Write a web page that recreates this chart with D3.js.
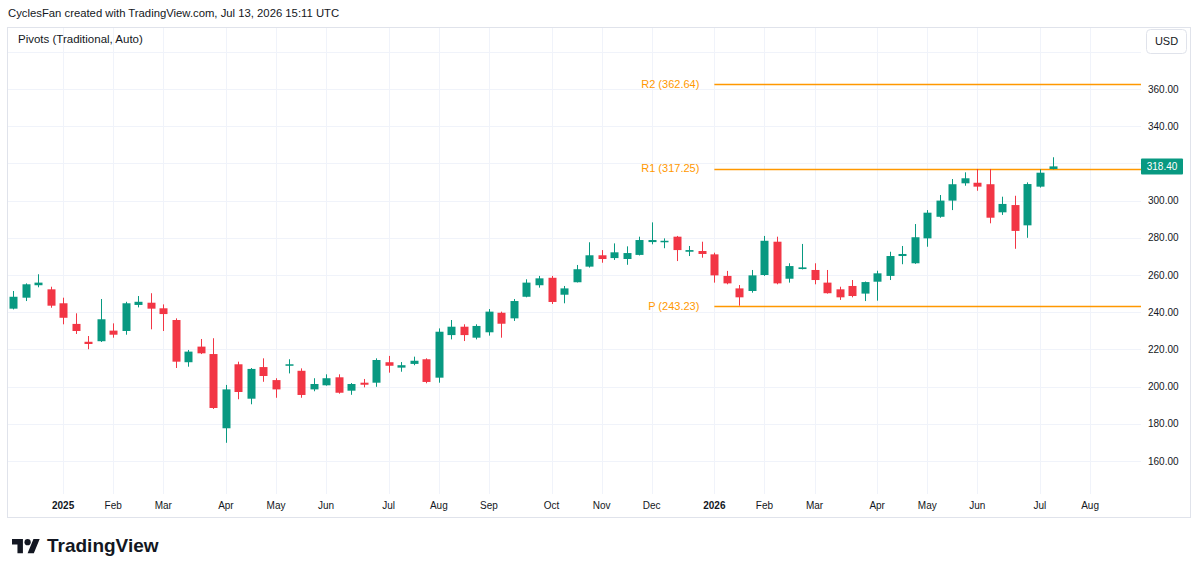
<!DOCTYPE html>
<html>
<head>
<meta charset="utf-8">
<script src="https://cdn.jsdelivr.net/npm/d3@7"></script>
<style>
  body { margin: 0; background: #fff; }
  svg { display: block; font-family: "Liberation Sans", Arial, sans-serif; }
</style>
</head>
<body>
<svg id="chart" width="1200" height="574"></svg>
<script>
// Weekly bars, Monday of each week
const weeks = [
  "2024-12-09","2024-12-16","2024-12-23","2024-12-30",
  "2025-01-06","2025-01-13","2025-01-20","2025-01-27","2025-02-03","2025-02-10","2025-02-17","2025-02-24",
  "2025-03-03","2025-03-10","2025-03-17","2025-03-24","2025-03-31","2025-04-07","2025-04-14","2025-04-21",
  "2025-04-28","2025-05-05","2025-05-12","2025-05-19","2025-05-26","2025-06-02","2025-06-09","2025-06-16",
  "2025-06-23","2025-06-30","2025-07-07","2025-07-14","2025-07-21","2025-07-28","2025-08-04","2025-08-11",
  "2025-08-18","2025-08-25","2025-09-01","2025-09-08","2025-09-15","2025-09-22","2025-09-29","2025-10-06",
  "2025-10-13","2025-10-20","2025-10-27","2025-11-03","2025-11-10","2025-11-17","2025-11-24","2025-12-01",
  "2025-12-08","2025-12-15","2025-12-22","2025-12-29","2026-01-05","2026-01-12","2026-01-19","2026-01-26",
  "2026-02-02","2026-02-09","2026-02-16","2026-02-23","2026-03-02","2026-03-09","2026-03-16","2026-03-23",
  "2026-03-30","2026-04-06","2026-04-13","2026-04-20","2026-04-27","2026-05-04","2026-05-11","2026-05-18",
  "2026-05-25","2026-06-01","2026-06-08","2026-06-15","2026-06-22","2026-06-29","2026-07-06","2026-07-13"
];
const open = [
  241.9, 247.8, 254.5, 252.3,
  244.8, 233.7, 224.1, 224.4, 230.1, 229.9, 243.9, 245.1,
  242.1, 235.8, 213.1, 221.5, 217.5, 177.6, 212.0, 193.5,
  210.5, 203.5, 211.5, 208.5, 198.5, 200.7, 205.0, 197.8,
  202.1, 202.1, 213.1, 210.2, 212.2, 214.7, 204.8, 227.7,
  232.2, 226.3, 229.2, 239.7, 236.7, 248.3, 254.5, 258.5,
  249.4, 256.1, 264.5, 270.6, 269.1, 268.6, 270.8, 277.7,
  277.9, 280.6, 272.5, 272.9, 271.1, 259.5, 252.8, 251.4,
  260.0, 277.9, 258.0, 263.2, 262.7, 255.9, 252.3, 254.1,
  250.0, 256.4, 259.5, 270.2, 266.3, 279.7, 291.3, 300.0,
  309.3, 309.6, 308.8, 293.7, 297.6, 286.7, 307.5, 317.0
];
const high = [
  251.4, 255.5, 260.4, 253.7,
  247.8, 239.4, 227.2, 247.1, 234.0, 245.6, 248.7, 250.2,
  244.2, 236.7, 219.7, 225.6, 226.0, 200.9, 213.4, 210.0,
  215.2, 204.5, 214.7, 209.8, 204.5, 206.6, 206.6, 201.9,
  204.1, 215.2, 216.5, 213.2, 216.1, 215.2, 231.3, 235.8,
  233.5, 233.5, 241.7, 240.3, 247.1, 257.7, 259.5, 259.5,
  254.1, 265.4, 277.6, 273.4, 277.0, 275.4, 280.6, 288.3,
  279.7, 281.0, 275.6, 277.9, 272.0, 262.2, 254.6, 262.7,
  281.0, 280.6, 266.3, 276.7, 266.3, 262.7, 253.7, 257.3,
  256.5, 262.3, 272.5, 275.6, 287.4, 294.9, 303.0, 311.6,
  315.2, 317.0, 317.0, 302.1, 302.6, 309.8, 316.8, 323.3
];
const low = [
  241.5, 246.0, 253.4, 242.4,
  233.5, 228.3, 220.1, 224.0, 226.3, 227.9, 242.6, 230.8,
  229.9, 210.0, 210.7, 217.5, 188.0, 169.8, 193.2, 190.5,
  202.6, 194.0, 207.1, 194.0, 197.5, 200.5, 196.2, 195.6,
  199.6, 199.9, 207.5, 208.0, 211.5, 201.8, 202.1, 225.4,
  224.5, 225.4, 227.4, 226.3, 235.3, 248.0, 253.2, 244.4,
  244.8, 256.0, 264.0, 266.6, 268.1, 265.5, 270.5, 276.5,
  274.4, 267.5, 270.2, 269.3, 255.9, 255.0, 243.5, 250.5,
  259.5, 255.0, 255.9, 263.0, 255.0, 250.0, 246.6, 248.0,
  246.0, 246.2, 257.3, 265.8, 266.0, 275.2, 290.8, 294.9,
  308.0, 305.3, 287.8, 292.3, 274.1, 280.0, 307.0, 316.8
];
const close = [
  248.3, 255.0, 255.9, 243.5,
  237.0, 229.9, 222.9, 236.2, 227.9, 244.8, 245.6, 241.9,
  239.0, 213.4, 218.8, 217.9, 188.5, 198.5, 197.1, 209.5,
  205.7, 198.5, 212.0, 195.5, 201.4, 204.5, 196.7, 201.4,
  201.0, 214.3, 211.2, 211.5, 213.9, 202.5, 229.5, 232.2,
  227.7, 232.6, 240.3, 233.8, 246.0, 255.9, 258.2, 245.5,
  252.8, 263.1, 270.6, 268.6, 272.2, 271.8, 278.8, 278.8,
  278.4, 273.4, 273.4, 271.3, 259.8, 255.5, 248.0, 259.8,
  278.4, 255.5, 264.8, 264.1, 257.3, 250.2, 248.0, 248.7,
  256.2, 260.9, 270.2, 271.3, 280.3, 293.5, 300.0, 308.8,
  312.0, 307.5, 290.8, 298.2, 283.7, 308.9, 315.0, 318.4
];

// Yearly pivots (Traditional)
const pivotNames = ["R2", "R1", "P"];
const pivotValues = [362.64, 317.25, 243.23];
const pivotFrom = "2026-01-05";

const priceTicks = [160, 180, 200, 220, 240, 260, 280, 300, 320, 340, 360];
const gridPrices = [160, 180, 200, 220, 240, 260, 280, 300, 320, 340, 360, 380];
const monthKeys = ["2025-01","2025-02","2025-03","2025-04","2025-05","2025-06","2025-07","2025-08","2025-09",
  "2025-10","2025-11","2025-12","2026-01","2026-02","2026-03","2026-04","2026-05","2026-06","2026-07","2026-08"];
const monthLabels = ["2025","Feb","Mar","Apr","May","Jun","Jul","Aug","Sep","Oct","Nov","Dec",
  "2026","Feb","Mar","Apr","May","Jun","Jul","Aug"];
const lastPrice = 318.40;

const svg = d3.select("#chart");
const pane = { left: 8, right: 1141, top: 28, bottom: 494 };
const up = "#089981", down = "#F23645", pivotColor = "#FF9800";
const textColor = "#131722", gridColor = "#f0f3fa", borderColor = "#e0e3eb";

const parse = d3.utcParse("%Y-%m-%d");
const bars = weeks.map((w, i) => ({
  date: parse(w), o: open[i], h: high[i], l: low[i], c: close[i]
}));

const x = d3.scaleUtc()
  .domain([bars[0].date, bars[bars.length - 1].date])
  .range([13, 1052.5]);

const y = d3.scaleLinear()
  .domain([160, 360])
  .range([461, 89]);

// header
svg.append("text")
  .attr("x", 8).attr("y", 17)
  .attr("fill", textColor)
  .style("font-size", "11.3px")
  .text("CyclesFan created with TradingView.com, Jul 13, 2026 15:11 UTC");

// outer frame
svg.append("rect")
  .attr("x", 7.5).attr("y", 27.5)
  .attr("width", 1183).attr("height", 490)
  .attr("fill", "none")
  .attr("stroke", borderColor);

// month ticks = first weekly bar of each month
const monthTicks = monthKeys.map((m, i) => ({
  date: d3.utcMonday.ceil(d3.utcParse("%Y-%m")(m)),
  label: monthLabels[i],
  year: /^\d{4}$/.test(monthLabels[i])
}));

const grid = svg.append("g");
grid.selectAll(".vgrid")
  .data(monthTicks)
  .enter()
  .append("line")
  .attr("x1", d => Math.round(x(d.date)) + 0.5)
  .attr("x2", d => Math.round(x(d.date)) + 0.5)
  .attr("y1", pane.top)
  .attr("y2", pane.bottom)
  .attr("stroke", gridColor);

grid.selectAll(".hgrid")
  .data(gridPrices)
  .enter()
  .append("line")
  .attr("x1", pane.left)
  .attr("x2", pane.right)
  .attr("y1", d => Math.round(y(d)) + 0.5)
  .attr("y2", d => Math.round(y(d)) + 0.5)
  .attr("stroke", gridColor);

// indicator title
svg.append("text")
  .attr("x", 18).attr("y", 43)
  .attr("fill", textColor)
  .style("font-size", "11.5px")
  .text("Pivots (Traditional, Auto)");

// pivot levels
const xPivot = x(parse(pivotFrom));
const pivots = pivotNames.map((n, i) => ({ name: n, value: pivotValues[i] }));

svg.selectAll(".pivot-line")
  .data(pivots)
  .enter()
  .append("line")
  .attr("x1", xPivot)
  .attr("x2", pane.right)
  .attr("y1", d => Math.round(y(d.value)) + 0.5)
  .attr("y2", d => Math.round(y(d.value)) + 0.5)
  .attr("stroke", pivotColor)
  .attr("stroke-width", 1.5);

svg.selectAll(".pivot-label")
  .data(pivots)
  .enter()
  .append("text")
  .attr("x", xPivot - 15)
  .attr("y", d => y(d.value))
  .attr("dy", "0.35em")
  .attr("text-anchor", "end")
  .attr("fill", pivotColor)
  .style("font-size", "11px")
  .text(d => `${d.name} (${d.value.toFixed(2)})`);

// candles
const candles = svg.append("g")
  .selectAll("g")
  .data(bars)
  .enter()
  .append("g")
  .attr("fill", d => d.c >= d.o ? up : down);

candles.append("rect")
  .attr("x", d => Math.round(x(d.date)))
  .attr("width", 1)
  .attr("y", d => y(d.h))
  .attr("height", d => Math.max(1, y(d.l) - y(d.h)));

candles.append("rect")
  .attr("x", d => Math.round(x(d.date)) - 3.5)
  .attr("width", 8)
  .attr("y", d => y(Math.max(d.o, d.c)))
  .attr("height", d => Math.max(1.5, Math.abs(y(d.o) - y(d.c))));

// price axis (labels covered by the last price marker are hidden)
svg.append("g")
  .selectAll("text")
  .data(priceTicks.filter(p => Math.abs(y(p) - y(lastPrice)) > 12))
  .enter()
  .append("text")
  .attr("x", 1148)
  .attr("y", d => y(d))
  .attr("dy", "0.35em")
  .attr("fill", textColor)
  .style("font-size", "10px")
  .text(d => d.toFixed(2));

// last price marker
svg.append("rect")
  .attr("x", 1141).attr("y", y(lastPrice) - 8)
  .attr("width", 42).attr("height", 16)
  .attr("rx", 1)
  .attr("fill", up);
svg.append("text")
  .attr("x", 1162).attr("y", y(lastPrice))
  .attr("dy", "0.35em")
  .attr("text-anchor", "middle")
  .attr("fill", "#fff")
  .style("font-size", "10px")
  .text(lastPrice.toFixed(2));

// currency button
svg.append("rect")
  .attr("x", 1146.5).attr("y", 29.5)
  .attr("width", 40).attr("height", 24)
  .attr("rx", 4)
  .attr("fill", "#fff")
  .attr("stroke", borderColor);
svg.append("text")
  .attr("x", 1166.5).attr("y", 41.5)
  .attr("dy", "0.35em")
  .attr("text-anchor", "middle")
  .attr("fill", textColor)
  .style("font-size", "11px")
  .text("USD");

// time axis
svg.append("g")
  .selectAll("text")
  .data(monthTicks)
  .enter()
  .append("text")
  .attr("x", d => x(d.date))
  .attr("y", 505)
  .attr("dy", "0.35em")
  .attr("text-anchor", "middle")
  .attr("fill", textColor)
  .style("font-size", "10px")
  .style("font-weight", d => d.year ? "bold" : "normal")
  .text(d => d.label);

// TradingView logo
const logo = svg.append("g").attr("transform", "translate(12,536) scale(0.78)");
logo.append("path")
  .attr("d", "M14 22H7V11H0V4h14v18zM28 22h-8l7.5-18h8L28 22z")
  .attr("fill", "#131722");
logo.append("circle")
  .attr("cx", 20).attr("cy", 8).attr("r", 4)
  .attr("fill", "#131722");
svg.append("text")
  .attr("x", 47).attr("y", 552)
  .attr("fill", "#131722")
  .style("font-size", "19px")
  .style("font-weight", "bold")
  .text("TradingView");
</script>
</body>
</html>
